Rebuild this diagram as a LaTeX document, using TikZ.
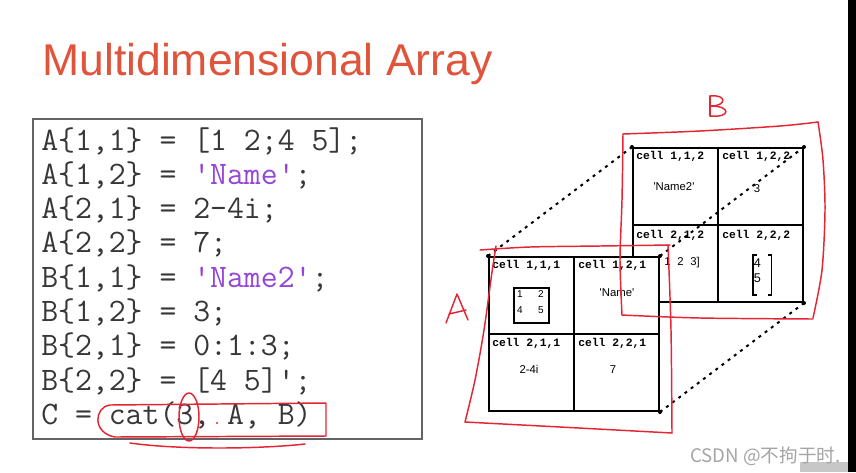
\documentclass[tikz,border=0pt]{standalone}
\usepackage{fontspec}
\setmainfont{Liberation Sans}
\setsansfont{Liberation Sans}
\setmonofont{Liberation Mono}
\newfontfamily\codefont{Latin Modern Mono}
\newfontfamily\cjk{Noto Sans CJK SC}
\definecolor{titlered}{RGB}{224,84,60}
\definecolor{pen}{RGB}{228,38,52}
\definecolor{strpurple}{RGB}{150,70,215}
\definecolor{codegray}{RGB}{55,55,55}
\definecolor{boxgray}{RGB}{100,100,100}
\definecolor{wm}{RGB}{165,165,165}
\pgfdeclarelayer{bottom}
\pgfdeclarelayer{back}
\pgfsetlayers{bottom,back,main}
\tikzset{
 codeline/.style={anchor=base west, inner sep=0, text=codegray, font=\codefont\fontsize{24.6pt}{24.6pt}\selectfont},
 celllabel/.style={anchor=base west, inner sep=0, font=\ttfamily\bfseries\fontsize{8.5pt}{8.5pt}\selectfont},
 cellval/.style={inner sep=0, font=\sffamily\fontsize{8.5pt}{8.5pt}\selectfont},
 smallnum/.style={inner sep=0, font=\sffamily\fontsize{7.5pt}{7.5pt}\selectfont},
 vecnum/.style={inner sep=0, font=\sffamily\fontsize{9.5pt}{9.5pt}\selectfont},
 gridbox/.style={draw=black, fill=white, line width=1.5pt, minimum width=127.5pt, minimum height=115.5pt, inner sep=0},
 gridline/.style={line width=1.5pt},
 hiddenline/.style={line width=1.5pt, dash pattern=on 2.2pt off 3.6pt},
 ink/.style={draw=pen, line width=1.1pt, line cap=round, line join=round},
}
\begin{document}
\begin{tikzpicture}[x=0.75pt,y=-0.75pt]
\useasboundingbox (0,0) rectangle (856,472);
\begin{pgfonlayer}{bottom}
\fill[white] (0,0) rectangle (856,472);
\fill[black] (848,0) rectangle (856,472);
\fill[black!22] (800,462) rectangle (848,472);
\end{pgfonlayer}

% title
\node[anchor=base west, inner sep=0, text=titlered, font=\sffamily\fontsize{33.4pt}{33.4pt}\selectfont] (title) at (42,75) {Multidimensional Array};

% code box
\draw[boxgray, line width=1.5pt] (33,119) rectangle (422,439);
\node[codeline] (c1) at (41,150.0) {A\{1,1\} = [1 2;4 5];};
\node[codeline] (c2) at (41,184.3) {A\{1,2\} = {\color{strpurple}\textquotesingle Name\textquotesingle};};
\node[codeline] (c3) at (41,218.6) {A\{2,1\} = 2-4i;};
\node[codeline] (c4) at (41,252.9) {A\{2,2\} = 7;};
\node[codeline] (c5) at (41,287.2) {B\{1,1\} = {\color{strpurple}\textquotesingle Name2\textquotesingle};};
\node[codeline] (c6) at (41,321.5) {B\{1,2\} = 3;};
\node[codeline] (c7) at (41,355.8) {B\{2,1\} = 0:1:3;};
\node[codeline] (c8) at (41,390.1) {B\{2,2\} = [4 5]\textquotesingle;};
\node[codeline] (c9) at (41,424.4) {C = cat(3, A, B)};

% front page A
\node[gridbox] (A) at (574,334) {};
\draw[gridline] (A.north) -- (A.south);
\draw[gridline] (A.west) -- (A.east);
\node[celllabel] (a111) at (492,268) {cell 1,1,1};
\node[celllabel] (a121) at (578,268) {cell 1,2,1};
\node[celllabel] (a211) at (492,346) {cell 2,1,1};
\node[celllabel] (a221) at (578,346) {cell 2,2,1};
\node[draw, line width=1.1pt, minimum width=26.25pt, minimum height=26pt, inner sep=0] (m111) at (531.5,305.5) {};
\node[smallnum] (m1) at (520,294) {1};
\node[smallnum] (m2) at (541,294) {2};
\node[smallnum] (m4) at (520,310) {4};
\node[smallnum] (m5) at (541,310) {5};
\node[cellval] (v121) at (617,293) {\textquotesingle Name\textquotesingle};
\node[cellval] (v211) at (529,369) {2-4i};
\node[cellval] (v221) at (613,370) {7};
\foreach \c in {north west, north east, south east} \fill (A.\c) circle (2);

% back page B
\begin{pgfonlayer}{back}
\node[gridbox] (B) at (718,225) {};
\draw[gridline] (B.north) -- (B.south);
\draw[gridline] (B.west) -- (B.east);
\node[celllabel] (b112) at (636,159) {cell 1,1,2};
\node[celllabel] (b122) at (722,159) {cell 1,2,2};
\node[celllabel] (b212) at (636,238) {cell 2,1,2};
\node[celllabel] (b222) at (722,238) {cell 2,2,2};
\node[cellval] (v112) at (674,187) {\textquotesingle Name2\textquotesingle};
\node[cellval] (v122) at (757,189) {3};
\node[cellval, anchor=east] (v212) at (700,263) {[0\hspace{5pt}1\hspace{5pt}2\hspace{5pt}3]};
\node[vecnum] (v4) at (757.5,263) {4};
\node[vecnum] (v5) at (757.5,278) {5};
\draw[line width=1pt] (756.5,255) -- (753,255) -- (753,295) -- (756.5,295);
\draw[line width=1pt] (768,255) -- (771.5,255) -- (771.5,295) -- (768,295);
\foreach \c in {north west, north east, south east} \fill (B.\c) circle (2);
\draw[hiddenline] (A.north west) -- (B.north west);
\draw[hiddenline] (A.north east) -- (B.north east);
\draw[hiddenline] (A.south east) -- (B.south east);
\end{pgfonlayer}

% red pen annotations
\draw[ink] plot[smooth] coordinates {(480,250) (530,247) (600,246) (670,245)};
\draw[ink] plot[smooth] coordinates {(496,246) (492,272) (484,330) (475,380) (465,422)};
\draw[ink] plot[smooth] coordinates {(465,422) (560,427) (672,433)};
\draw[ink] plot[smooth] coordinates {(668,245) (671,330) (672,433)};

\draw[ink] plot[smooth] coordinates {(623,134) (700,131) (780,126) (818,122)};
\draw[ink] plot[smooth] coordinates {(623,134) (622,200) (620,260) (622,315)};
\draw[ink] plot[smooth] coordinates {(818,122) (823,160) (825,210) (822,270) (813,318)};
\draw[ink] plot[smooth] coordinates {(622,315) (700,318) (813,319)};

% letters A and B
\draw[ink] (446,323) -- (457,294) -- (468,320);
\draw[ink] (449,314) -- (466,310);
\draw[ink] (710,96) -- (710,116);
\draw[ink] (710,96) .. controls (727,94) and (727,106) .. (711,106);
\draw[ink] (711,106) .. controls (731,106) and (731,118) .. (710,116);

% circling cat(3, A, B)
\draw[ink] (326,403) -- (110,405) .. controls (94,407) and (92,433) .. (115,437) -- (326,436) -- (326,403);
\draw[ink] (130,443) .. controls (180,450) and (260,449) .. (305,444);
\draw[ink] (189,417) ellipse [x radius=10, y radius=24];
\fill[pen] (217,423) circle (1.2);

% watermark
\node[anchor=base west, inner sep=0, text=wm, font=\cjk\fontsize{14pt}{14pt}\selectfont] (wmark) at (690,462) {CSDN @不拘于时.};
\end{tikzpicture}
\end{document}
